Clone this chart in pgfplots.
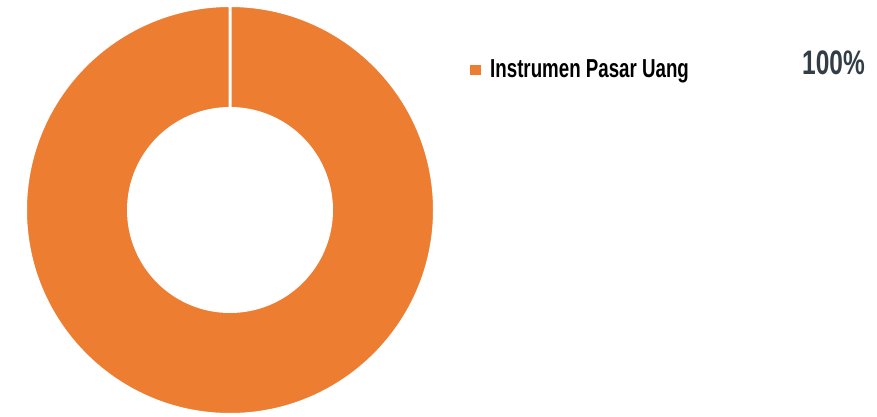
\documentclass[border=0pt]{standalone}
\usepackage{fontspec}
\setmainfont{Liberation Sans}[FakeStretch=0.72]
\usepackage{pgfplots}
\usepackage{pgfplotstable}
\pgfplotsset{compat=1.18}
\definecolor{sliceorange}{HTML}{ED7D31}
\definecolor{pcttext}{HTML}{333D47}

\pgfplotstableread{
label value
{Instrumen Pasar Uang} 100
}\alloc

\begin{document}
\begin{tikzpicture}
\pgfplotstablegetelem{0}{value}\of\alloc
\pgfmathsetmacro{\sweep}{3.6*\pgfplotsretval}
\begin{axis}[
    width=877pt, height=414pt,
    scale only axis,
    xmin=0, xmax=877, ymin=0, ymax=414,
    hide axis,
    clip=false,
]
\path (axis cs:0,0) rectangle (axis cs:877,414);
% donut slice, clockwise from 12 o'clock
\filldraw[fill=sliceorange, draw=white, line width=3pt, line join=miter]
    (axis cs:230,408.5) arc[start angle=90, delta angle=-\sweep, radius=204.5]
    -- (axis cs:230,305.5) arc[start angle=90-\sweep, delta angle=\sweep, radius=101.5]
    -- cycle;
% legend
\fill[sliceorange] (axis cs:470,339) rectangle (axis cs:481,349);
\node[anchor=base west, font=\fontsize{26}{30}\selectfont\bfseries, inner sep=0pt]
    at (axis cs:490,337) {Instrumen Pasar Uang};
\node[anchor=base east, font=\fontsize{34}{38}\selectfont\bfseries, text=pcttext, inner sep=0pt]
    at (axis cs:865,340) {100\%};
\end{axis}
\end{tikzpicture}
\end{document}
